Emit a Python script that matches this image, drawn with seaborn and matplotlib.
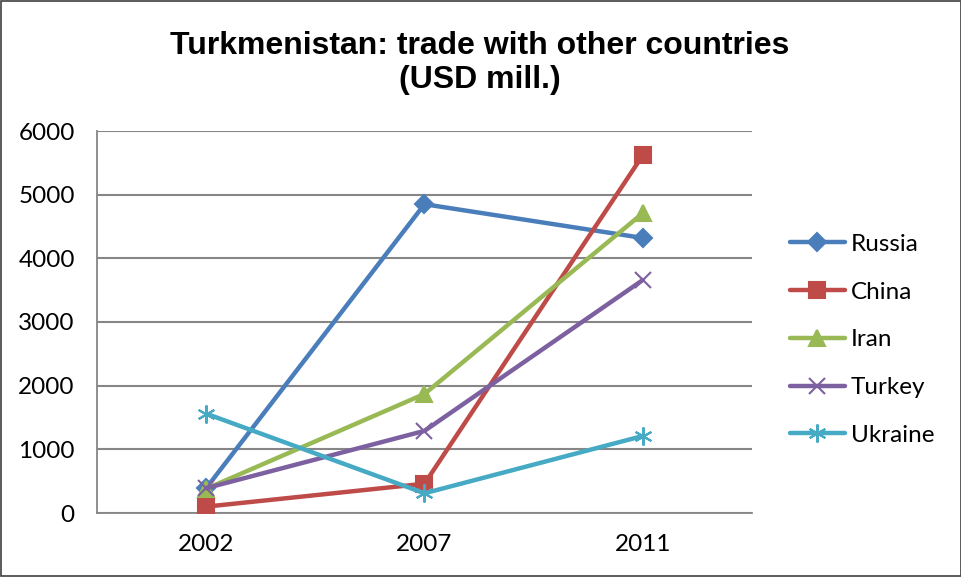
import pandas as pd
import matplotlib.pyplot as plt
import seaborn as sns

years = ["2002", "2007", "2011"]
russia = [390, 4850, 4320]
china = [100, 460, 5620]
iran = [380, 1870, 4710]
turkey = [390, 1290, 3660]
ukraine = [1560, 310, 1210]

series = ["Russia", "China", "Iran", "Turkey", "Ukraine"]
values = [russia, china, iran, turkey, ukraine]
colors = ["#4A7EBB", "#BE4B48", "#98B954", "#7D60A0", "#46AAC5"]
markers = ["D", "s", "^", "x", (6, 2, 0)]
msizes = [9, 11, 11, 11, 13]

rows = []
for name, vals in zip(series, values):
    for i, v in enumerate(vals):
        rows.append({"pos": i, "year": years[i], "country": name, "value": v})
df = pd.DataFrame(rows)

sns.set_style("white")
plt.rcParams["font.family"] = ["Lato", "DejaVu Sans"]
plt.rcParams["text.color"] = "black"
plt.rcParams["xtick.color"] = "black"
plt.rcParams["ytick.color"] = "black"

fig = plt.figure(figsize=(9.62, 5.77), dpi=100)
ax = fig.add_axes([97 / 962, 1 - 513 / 577, 655 / 962, 382 / 577])

for name, col, mk, ms in zip(series, colors, markers, msizes):
    sub = df[df["country"] == name]
    sns.lineplot(data=sub, x="pos", y="value", ax=ax, color=col, linewidth=3.2,
                 marker=mk, markersize=ms, markeredgecolor=col, markeredgewidth=1.5,
                 label=name, zorder=3)

ax.set_xlim(-0.5, 2.5)
ax.set_ylim(0, 6000)
ax.set_yticks(range(0, 6001, 1000))
ax.set_xticks([0, 1, 2])
ax.set_xticklabels(years)
ax.set_xticks([-0.5, 0.5, 1.5, 2.5], minor=True)
ax.tick_params(axis="x", which="major", length=0, labelsize=17.5, labelcolor="black", pad=15)
ax.tick_params(axis="x", which="minor", length=4, color="#868686", width=1.2, direction="out")
ax.tick_params(axis="y", length=4, color="#868686", width=1.2, direction="out",
               labelsize=17.5, labelcolor="black", pad=12)
ax.set_xlabel("")
ax.set_ylabel("")
ax.grid(axis="y", color="#868686", linewidth=1.5)
ax.set_axisbelow(True)
for s in ["top", "right"]:
    ax.spines[s].set_visible(False)
for s in ["left", "bottom"]:
    ax.spines[s].set_color("#868686")
    ax.spines[s].set_linewidth(1.3)

fig.text(480 / 962, 1 - 63 / 577, "Turkmenistan: trade with other countries\n(USD mill.)",
         ha="center", va="center", fontsize=23, fontweight="bold", color="black",
         family=["Liberation Sans", "DejaVu Sans"], linespacing=1.2)

leg = ax.legend(loc="center left", bbox_to_anchor=(1.024, 0.453), frameon=False,
                fontsize=17.5, handlelength=2.26, labelspacing=1.1, handletextpad=0.25)
for t in leg.get_texts():
    t.set_color("black")

border = plt.Rectangle((0.001, 0.001), 0.998, 0.998, transform=fig.transFigure,
                       fill=False, edgecolor="#404040", linewidth=1.2)
fig.patches.append(border)

fig.savefig("out.png", dpi=100)
